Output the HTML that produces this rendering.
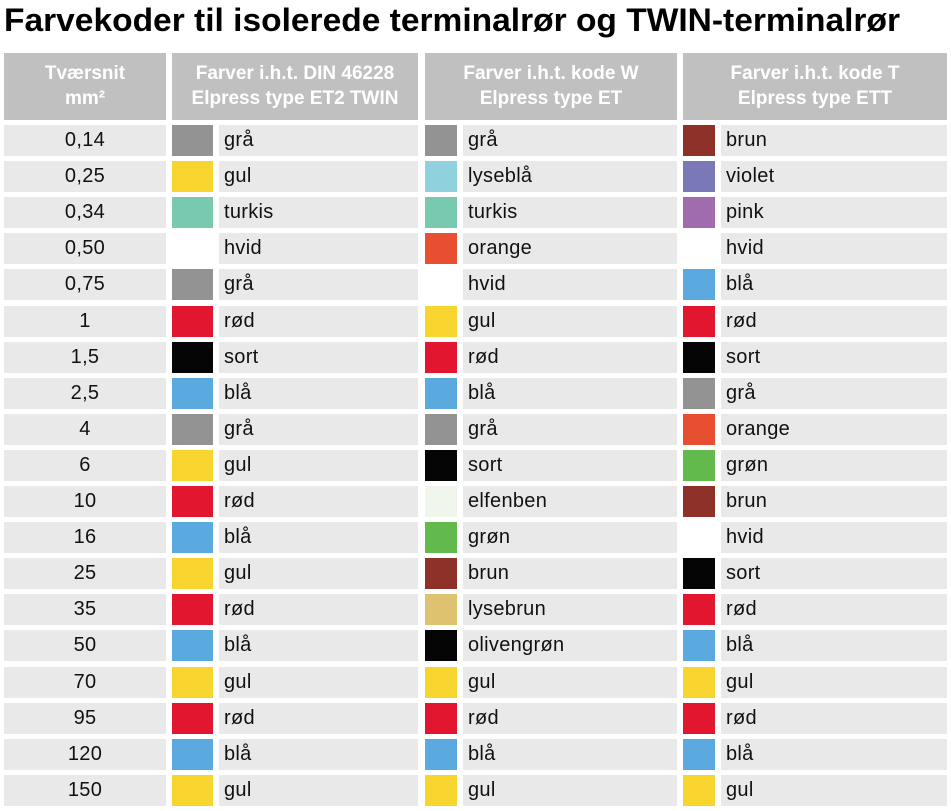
<!DOCTYPE html>
<html><head><meta charset="utf-8"><style>
body{margin:0;width:951px;height:811px;background:#fff;position:relative;overflow:hidden;font-family:"Liberation Sans",sans-serif}
.b{position:absolute;background:#e9e9e9}
.h{position:absolute;background:#c0c0c0;color:#fff;font-size:19px;font-weight:bold;text-align:center;line-height:25px;top:53px;height:67px;padding-top:8px;box-sizing:border-box}
.t{position:absolute;font-size:20px;color:#111;line-height:31px;letter-spacing:0.3px}
.s{position:absolute}
</style></head><body>
<svg width="951" height="45" style="position:absolute;left:0;top:0"><text x="4" y="31" font-family="Liberation Sans, sans-serif" font-weight="bold" font-size="32" textLength="896" lengthAdjust="spacingAndGlyphs" fill="#000">Farvekoder til isolerede terminalrør og TWIN-terminalrør</text></svg>
<div class="h" style="left:4px;width:162px">Tværsnit<br>mm²</div>
<div class="h" style="left:172px;width:246px">Farver i.h.t. DIN 46228<br>Elpress type ET2 TWIN</div>
<div class="h" style="left:425px;width:252px">Farver i.h.t. kode W<br>Elpress type ET</div>
<div class="h" style="left:683px;width:264px">Farver i.h.t. kode T<br>Elpress type ETT</div>
<div id="rows"></div>
<script>
var d=[
["0,14","grå","#939393","grå","#939393","brun","#8e3128"],
["0,25","gul","#f7d42e","lyseblå","#90d1de","violet","#7b78b7"],
["0,34","turkis","#79c8b0","turkis","#79c8b0","pink","#a06cad"],
["0,50","hvid","#ffffff","orange","#e84e30","hvid","#ffffff"],
["0,75","grå","#939393","hvid","#ffffff","blå","#5aa9df"],
["1","rød","#e2162f","gul","#f7d42e","rød","#e2162f"],
["1,5","sort","#050505","rød","#e2162f","sort","#050505"],
["2,5","blå","#5aa9df","blå","#5aa9df","grå","#939393"],
["4","grå","#939393","grå","#939393","orange","#e84e30"],
["6","gul","#f7d42e","sort","#050505","grøn","#62b94c"],
["10","rød","#e2162f","elfenben","#f1f6ec","brun","#8e3128"],
["16","blå","#5aa9df","grøn","#62b94c","hvid","#ffffff"],
["25","gul","#f7d42e","brun","#8e3128","sort","#050505"],
["35","rød","#e2162f","lysebrun","#dec270","rød","#e2162f"],
["50","blå","#5aa9df","olivengrøn","#050505","blå","#5aa9df"],
["70","gul","#f7d42e","gul","#f7d42e","gul","#f7d42e"],
["95","rød","#e2162f","rød","#e2162f","rød","#e2162f"],
["120","blå","#5aa9df","blå","#5aa9df","blå","#5aa9df"],
["150","gul","#f7d42e","gul","#f7d42e","gul","#f7d42e"]];
var h="";
d.forEach(function(r,i){
var y=Math.round(125+i*36.1);
h+='<div class="b" style="left:4px;top:'+y+'px;width:162px;height:31px"></div><div class="t" style="left:4px;width:162px;text-align:center;top:'+y+'px">'+r[0]+'</div>';
var cols=[[172,41,219,199],[425,32,463,214],[683,32,721,226]];
cols.forEach(function(c,k){
h+='<div class="s" style="left:'+c[0]+'px;top:'+y+'px;width:'+c[1]+'px;height:31px;background:'+r[2+2*k]+'"></div>';
h+='<div class="b" style="left:'+c[2]+'px;top:'+y+'px;width:'+c[3]+'px;height:31px"></div><div class="t" style="left:'+(c[2]+5)+'px;top:'+y+'px">'+r[1+2*k]+'</div>';
});
});
document.getElementById("rows").innerHTML=h;
</script>
</body></html>
